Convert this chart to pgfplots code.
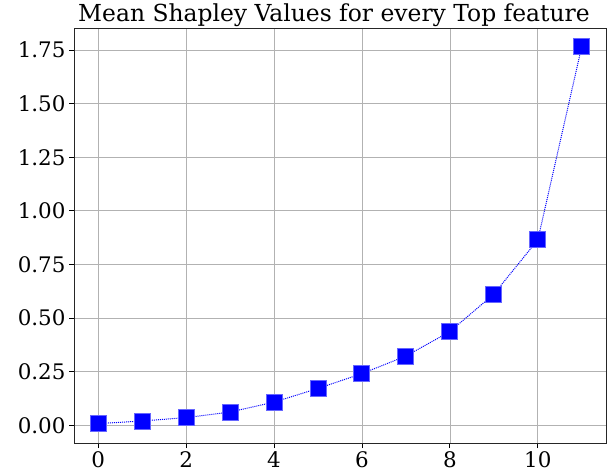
\documentclass[border=0pt]{standalone}
\usepackage{fontspec}
\setmainfont{DejaVu Serif}
\usepackage{pgfplots}
\pgfplotsset{compat=1.18}
\begin{document}
\begin{tikzpicture}
\useasboundingbox (-74bp,-29bp) rectangle (542bp,443bp);
\begin{axis}[
  at={(0,0)}, anchor=south west,
  scale only axis, width=532bp, height=415bp,
  xmin=-0.55, xmax=11.55,
  ymin=-0.0825, ymax=1.8525,
  xtick={0,2,4,6,8,10},
  ytick={0,0.25,0.5,0.75,1,1.25,1.5,1.75},
  yticklabel style={/pgf/number format/.cd, fixed, fixed zerofill, precision=2},
  /pgf/number format/assume math mode=true,
  tick label style={font=\fontsize{21.5}{24}\selectfont},
  grid=major,
  major grid style={color=black!30, line width=0.8pt},
  axis line style={line width=0.9pt, black!85},
  tick style={black, line width=0.9pt},
  tick align=outside,
  major tick length=5bp,
  xtick pos=bottom, ytick pos=left,
  title={Mean Shapley Values for every Top feature},
  title style={font=\fontsize{23.5}{26}\selectfont, yshift=-8bp, xshift=-6bp},
]
\addplot[blue, densely dotted, line width=1pt, mark=square*, mark size=8bp,
  mark options={solid, fill=blue, draw=blue!60}] coordinates {
  (0,0.008) (1,0.020) (2,0.036) (3,0.062) (4,0.108) (5,0.172)
  (6,0.241) (7,0.323) (8,0.437) (9,0.612) (10,0.865) (11,1.768)
};
\end{axis}
\end{tikzpicture}
\end{document}
